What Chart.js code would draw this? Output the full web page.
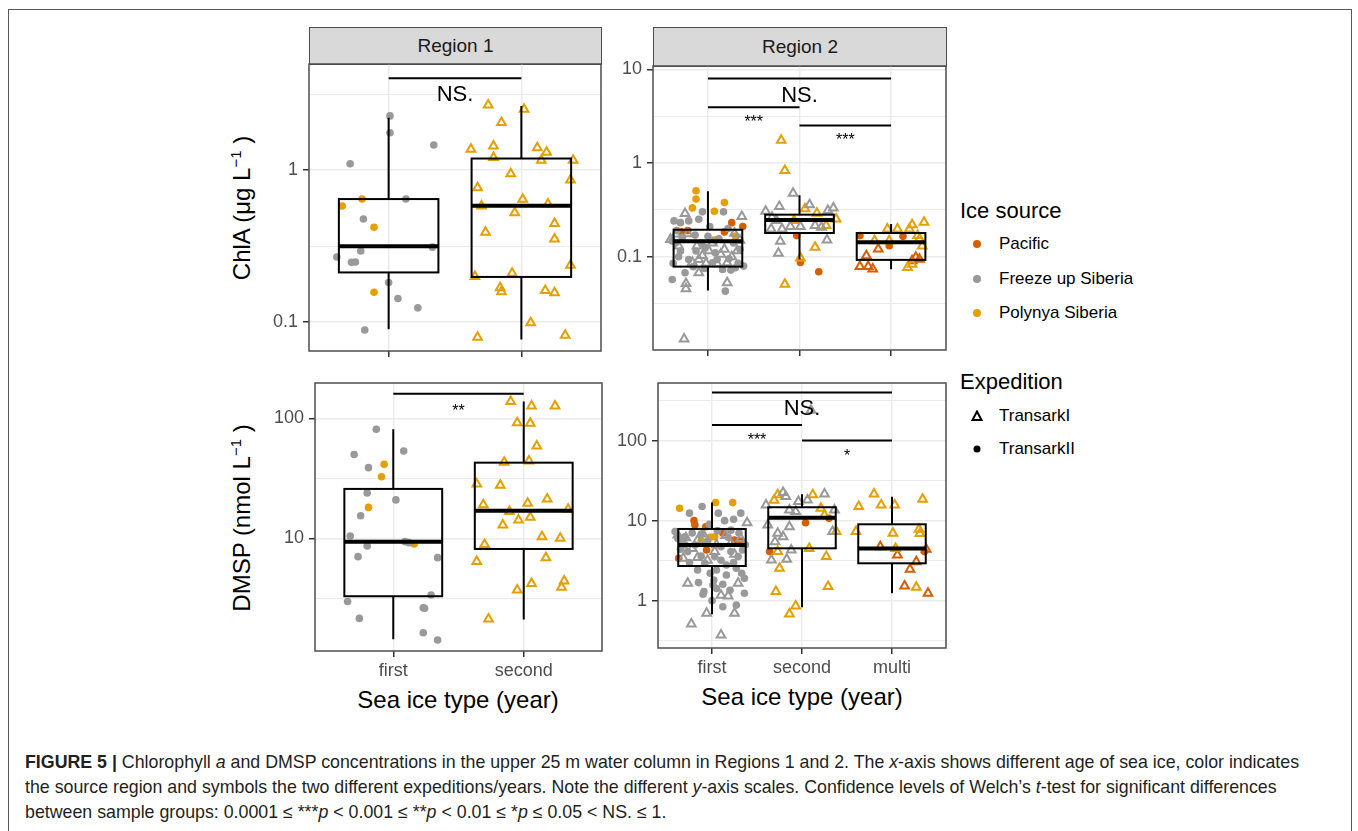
<!DOCTYPE html>
<html>
<head>
<meta charset="utf-8">
<script src="https://cdn.jsdelivr.net/npm/chart.js@4.4.0/dist/chart.umd.min.js"></script>
<style>
  body { margin: 0; width: 1358px; height: 831px; background: #fff; overflow: hidden; position: relative;
         font-family: 'Liberation Sans', Arial, sans-serif; color: #000; }
  .frame { position: absolute; left: 8px; top: 9px; width: 1342px; height: 900px; border: 1.5px solid #5a5a5a; }
  canvas { position: absolute; }
  .strip { position: absolute; background: #d9d9d9; border: 1.5px solid #4d4d4d; box-sizing: border-box;
           font-size: 19px; color: #1a1a1a; display: flex; align-items: center; justify-content: center; }
  .title { position: absolute; font-size: 24px; white-space: nowrap; transform: translate(-50%, -50%); }
  .ytitle { transform: translate(-50%, -50%) rotate(-90deg); }
  .title sup { font-size: 15px; vertical-align: 9px; line-height: 0; }
  .leg-title { position: absolute; font-size: 22px; white-space: nowrap; transform: translateY(-50%); }
  .leg-item { position: absolute; font-size: 17px; white-space: nowrap; transform: translateY(-50%); }
  .leg-key { position: absolute; transform: translate(-50%, -50%); }
  .caption { position: absolute; left: 25px; font-size: 17.8px; white-space: nowrap; color: #231f20; transform: translateY(-50%); }
</style>
</head>
<body>
<div class="frame"></div>

<div class="strip" style="left:309px; top:27px; width:293px; height:38px;">Region 1</div>
<div class="strip" style="left:653px; top:27px; width:294px; height:40px;">Region 2</div>

<div class="title ytitle" style="left:242px; top:208px;">ChlA (μg L<sup>−1</sup> )</div>
<div class="title ytitle" style="left:242px; top:518px;">DMSP (nmol L<sup>−1</sup> )</div>
<div class="title" style="left:458px; top:700px;">Sea ice type (year)</div>
<div class="title" style="left:802px; top:697px;">Sea ice type (year)</div>

<div class="leg-title" style="left:960px; top:211px;">Ice source</div>
<svg class="leg-key" style="left:977px; top:244px;" width="10" height="10"><circle cx="5" cy="5" r="4" fill="#D55E00"/></svg>
<div class="leg-item" style="left:999px; top:244px;">Pacific</div>
<svg class="leg-key" style="left:977px; top:279px;" width="10" height="10"><circle cx="5" cy="5" r="4" fill="#999999"/></svg>
<div class="leg-item" style="left:999px; top:279px;">Freeze up Siberia</div>
<svg class="leg-key" style="left:977px; top:313px;" width="10" height="10"><circle cx="5" cy="5" r="4" fill="#E69F00"/></svg>
<div class="leg-item" style="left:999px; top:313px;">Polynya Siberia</div>

<div class="leg-title" style="left:960px; top:382px;">Expedition</div>
<svg class="leg-key" style="left:977px; top:416px;" width="12" height="12"><polygon points="6,1.5 10.5,10 1.5,10" fill="none" stroke="#000" stroke-width="2"/></svg>
<div class="leg-item" style="left:999px; top:416px;">TransarkI</div>
<svg class="leg-key" style="left:977px; top:449px;" width="10" height="10"><circle cx="5" cy="5" r="3.5" fill="#000"/></svg>
<div class="leg-item" style="left:999px; top:449px;">TransarkII</div>

<div class="caption" style="top:762px;"><b>FIGURE 5 |</b> Chlorophyll <i>a</i> and DMSP concentrations in the upper 25 m water column in Regions 1 and 2. The <i>x</i>-axis shows different age of sea ice, color indicates</div>
<div class="caption" style="top:787px;">the source region and symbols the two different expeditions/years. Note the different <i>y</i>-axis scales. Confidence levels of Welch’s <i>t</i>-test for significant differences</div>
<div class="caption" style="top:812px;">between sample groups: 0.0001 ≤ ***<i>p</i> &lt; 0.001 ≤ **<i>p</i> &lt; 0.01 ≤ *<i>p</i> ≤ 0.05 &lt; NS. ≤ 1.</div>

<script>
// categories
const regionOneCats = ['first', 'second'];
const regionTwoCats = ['first', 'second', 'multi'];

// ---- ChlA, Region 1 : points are [x (category + jitter), value]
const chlR1FreezeII = [[1.01, 2.27], [1.01, 1.76], [1.34, 1.46], [0.71, 1.10], [1.13, 0.644], [0.81, 0.476],
  [1.33, 0.311], [0.79, 0.293], [0.61, 0.268], [0.72, 0.247], [0.75, 0.248], [1.0, 0.182], [1.07, 0.143],
  [1.22, 0.124], [0.82, 0.0886]];
const chlR1PolynyaII = [[0.80, 0.644], [0.65, 0.58], [0.89, 0.42], [0.89, 0.157]];
const chlR1PolynyaI = [[1.75, 2.68], [2.02, 2.51], [1.85, 2.05], [1.62, 1.37], [1.79, 1.44], [2.12, 1.40],
  [2.19, 1.31], [1.79, 1.21], [2.15, 1.16], [2.39, 1.16], [1.92, 0.946], [2.37, 0.86], [1.67, 0.765],
  [2.01, 0.641], [1.70, 0.58], [2.20, 0.597], [1.95, 0.524], [2.25, 0.444], [1.73, 0.389], [2.25, 0.352],
  [2.37, 0.236], [1.65, 0.199], [1.93, 0.209], [1.84, 0.168], [1.85, 0.158], [2.18, 0.161], [2.25, 0.156],
  [2.07, 0.099], [1.67, 0.0794], [2.33, 0.082]];
// boxes: [lower whisker, q1, median, q3, upper whisker]
const chlR1Boxes = [[0.0895, 0.212, 0.315, 0.644, 2.21], [0.0769, 0.198, 0.582, 1.19, 2.64]];
// significance: [from, to, bar value, label, label value]
const chlR1Sig = [[1, 2, 4.01, 'NS.', 3.11]];
const chlR1Range = [0.0645, 4.98];
const chlR1Ticks = [0.1, 1];
const chlR1Minor = [0.316, 3.16];

// ---- ChlA, Region 2
const chlR2PolynyaII = [[0.87, 0.506], [0.87, 0.412], [0.83, 0.332], [1.18, 0.379], [1.07, 0.306], [1.30, 0.166],
  [1.08, 0.151]];
const chlR2PacificII = [[1.26, 0.231], [1.38, 0.21], [0.71, 0.185], [1.18, 0.184], [0.78, 0.19], [1.97, 0.168],
  [2.01, 0.087], [2.21, 0.069], [2.66, 0.168], [3.13, 0.165], [2.98, 0.131]];
const chlR2FreezeII = [[0.94, 0.301], [1.17, 0.301], [0.63, 0.241], [0.70, 0.231], [0.79, 0.241], [0.90, 0.251],
  [0.61, 0.147], [0.75, 0.0674], [0.61, 0.0572], [1.19, 0.0429], [0.87, 0.115], [1.05, 0.0863], [1.16, 0.0731],
  [1.30, 0.0762], [1.39, 0.0794], [1.25, 0.072], [0.79, 0.0935], [0.97, 0.125], [0.70, 0.115], [1.10, 0.0935],
  [0.65, 0.141], [1.02, 0.21], [1.22, 0.2], [0.66, 0.19], [0.72, 0.16], [0.86, 0.17], [1.0, 0.165],
  [1.12, 0.155], [1.28, 0.14], [1.35, 0.12], [0.68, 0.1], [0.84, 0.078], [0.96, 0.075], [1.08, 0.11],
  [1.23, 0.095], [0.93, 0.14], [1.33, 0.085], [0.62, 0.085]];
const chlR2FreezeI = [[0.75, 0.289], [1.37, 0.268], [0.78, 0.176], [1.29, 0.178], [0.59, 0.153], [0.90, 0.0674],
  [0.76, 0.0518], [0.76, 0.0454], [1.21, 0.0526], [0.74, 0.0132], [1.14, 0.106], [0.94, 0.103], [1.01, 0.116],
  [0.90, 0.0935], [0.83, 0.0871], [1.10, 0.0843], [1.21, 0.086], [1.32, 0.116], [0.65, 0.175],
  [0.68, 0.13], [0.88, 0.13], [1.05, 0.14], [1.18, 0.12], [1.35, 0.15], [0.98, 0.085], [1.26, 0.1],
  [1.93, 0.477], [1.78, 0.343], [2.11, 0.358], [1.63, 0.306], [2.37, 0.332], [2.31, 0.311], [1.69, 0.198],
  [1.81, 0.198], [1.90, 0.21], [2.01, 0.21], [2.17, 0.215], [2.24, 0.206], [1.75, 0.243], [1.79, 0.146],
  [2.30, 0.151], [1.77, 0.109], [1.70, 0.264]];
const chlR2PolynyaI = [[1.80, 1.75], [1.84, 0.834], [2.06, 0.324], [2.19, 0.291], [2.40, 0.253], [2.29, 0.215],
  [2.17, 0.126], [2.01, 0.0968], [1.84, 0.0509], [1.94, 0.243], [3.36, 0.233], [3.23, 0.22], [2.96, 0.198],
  [3.07, 0.198], [3.20, 0.198], [3.29, 0.168], [2.82, 0.148], [2.98, 0.148], [3.31, 0.155], [3.34, 0.13],
  [3.18, 0.0769], [3.23, 0.083]];
const chlR2PacificI = [[2.86, 0.121], [2.73, 0.1025], [3.27, 0.0984], [3.23, 0.0906], [3.31, 0.094], [2.66, 0.0788],
  [2.75, 0.0788], [2.80, 0.0738]];
const chlR2Boxes = [[0.0437, 0.0784, 0.146, 0.194, 0.501], [0.094, 0.179, 0.246, 0.281, 0.454],
  [0.0734, 0.0925, 0.143, 0.179, 0.223]];
const chlR2Sig = [[1, 3, 7.97, 'NS.', 5.2], [1, 2, 3.93, '***', 2.99], [2, 3, 2.51, '***', 1.9]];
const chlR2Range = [0.0101, 10.85];
const chlR2Ticks = [0.1, 1, 10];
const chlR2Minor = [0.0316, 0.316, 3.16];

// ---- DMSP, Region 1
const dmspR1FreezeII = [[0.87, 81], [0.70, 50], [1.08, 53.4], [0.81, 38.8], [0.80, 23.9], [1.02, 20.9], [0.75, 15.4],
  [0.67, 10.45], [0.80, 8.63], [1.09, 9.38], [1.12, 9.2], [0.73, 7.03], [1.34, 6.9], [1.29, 3.37], [0.65, 2.97],
  [1.23, 2.64], [1.24, 2.61], [0.74, 2.15], [1.23, 1.63], [1.34, 1.42]];
const dmspR1PolynyaII = [[0.93, 41.4], [0.91, 32.6], [0.81, 18.1], [1.16, 8.97]];
const dmspR1PolynyaI = [[1.90, 138], [2.06, 127], [2.24, 127], [1.95, 92], [2.05, 90.8], [2.10, 58.7], [1.85, 43],
  [2.04, 44], [1.64, 28.4], [1.82, 27.7], [1.69, 19], [2.18, 21.3], [2.03, 19.6], [1.89, 16.7], [2.34, 17.5],
  [1.96, 14.2], [2.05, 15], [1.84, 12.9], [2.14, 10.3], [2.28, 10], [1.70, 8.9], [1.64, 6.4], [2.17, 6.9],
  [2.06, 4.2], [2.31, 4.4], [1.95, 3.7], [2.29, 3.9], [1.73, 2.13]];
const dmspR1Boxes = [[1.44, 3.29, 9.38, 25.8, 81], [2.11, 8.15, 17.0, 42.7, 138]];
const dmspR1Sig = [[1, 2, 160, '**', 123]];
const dmspR1Range = [1.15, 197];
const dmspR1Ticks = [10, 100];
const dmspR1Minor = [3.16, 31.6];

// ---- DMSP, Region 2
const dmspR2PolynyaII = [[0.64, 14.3], [1.04, 16.8], [1.23, 16.8], [0.98, 6.2], [0.88, 5.6], [1.03, 6.3]];
const dmspR2PacificII = [[0.80, 10], [0.81, 8.8], [0.93, 8.4], [0.63, 3.38], [1.32, 5.57], [0.94, 4.3], [1.12, 7.0],
  [1.25, 5.7], [2.04, 9.4], [1.64, 4.1], [2.30, 10.7], [3.36, 4.1]];
const dmspR2FreezeII = [[0.89, 15], [1.32, 12.4], [1.07, 12.4], [0.75, 12.4], [1.24, 10.4], [0.59, 7.3], [1.36, 1.24],
  [0.91, 1.30], [1.02, 1.81], [0.85, 1.68], [1.36, 1.9], [1.12, 0.84], [1.27, 0.88], [1.05, 1.42], [1.01, 1.57],
  [1.10, 4.73], [1.21, 4.1], [1.29, 3.55], [0.81, 4.96], [0.73, 4.1], [1.03, 3.55], [1.16, 2.79], [0.92, 2.93],
  [1.34, 4.3], [1.21, 7.6], [0.70, 6.3], [1.16, 2.09], [1.05, 2.42], [1.27, 2.54], [0.84, 2.42], [0.97, 9.0],
  [1.14, 10.0], [0.66, 5.2], [0.62, 6.0], [0.70, 5.0], [0.78, 7.0], [0.88, 6.8], [0.95, 5.5], [1.06, 7.5],
  [1.18, 6.2], [1.30, 7.0], [1.37, 5.0], [0.75, 3.0], [0.88, 3.6], [0.98, 2.2], [1.10, 3.2], [1.24, 3.0],
  [1.33, 2.2], [0.65, 4.4], [0.90, 1.2], [1.20, 1.35], [1.00, 1.0], [1.12, 1.6]];
const dmspR2FreezeI = [[1.39, 9.4], [0.71, 6.1], [0.68, 3.38], [0.84, 3.45], [0.73, 1.65], [1.29, 1.65], [1.18, 1.14],
  [1.25, 0.695], [0.94, 0.695], [0.77, 0.51], [1.10, 0.373], [0.84, 5.7], [1.21, 5.2], [1.03, 4.1], [1.10, 1.17],
  [0.62, 6.6], [0.90, 6.8], [1.15, 6.5], [1.32, 6.0], [0.78, 4.5], [1.05, 5.0], [1.25, 3.8], [0.95, 3.2],
  [1.79, 22.4], [1.82, 20], [2.25, 21.5], [1.60, 15.7], [2.06, 18.1], [1.96, 17.4], [2.36, 13.6], [1.86, 13.6],
  [1.93, 13.0], [1.62, 8.8], [1.86, 8.4], [2.34, 7.3], [1.73, 6.95], [1.70, 5.46], [1.88, 4.3], [1.66, 3.22],
  [1.83, 3.3], [1.79, 6.3], [2.10, 240]];
const dmspR2PolynyaI = [[1.73, 21], [2.12, 21], [2.21, 14.3], [2.25, 11.7], [2.38, 7.3], [2.08, 4.5], [2.27, 3.55],
  [1.73, 4.1], [1.75, 2.54], [1.71, 1.30], [2.29, 1.50], [1.93, 0.858], [1.86, 0.68], [1.69, 18],
  [2.80, 21.5], [2.88, 15.7], [3.03, 15.7], [3.34, 18.5], [2.63, 15], [2.60, 7.3], [3.01, 6.95], [3.30, 7.8],
  [3.31, 6.9], [3.04, 4.5], [3.27, 1.47]];
const dmspR2PacificI = [[2.87, 4.73], [3.38, 4.38], [3.27, 3.07], [3.20, 2.46], [3.14, 1.52], [3.40, 1.24], [3.06, 3.72]];
const dmspR2Boxes = [[0.675, 2.71, 4.96, 7.87, 16.8], [0.826, 4.51, 10.9, 14.7, 21.3], [1.24, 2.93, 4.47, 9.0, 19.95]];
const dmspR2Sig = [[1, 3, 398, 'NS.', 246], [1, 2, 157, '***', 112], [2, 3, 100, '*', 70.8]];
const dmspR2Range = [0.256, 525];
const dmspR2Ticks = [1, 10, 100];
const dmspR2Minor = [0.316, 3.16, 31.6, 316];

const COLORS = { pacific: '#D55E00', freeze: '#999999', polynya: '#E69F00' };
Chart.defaults.font.family = "'Liberation Sans', Arial, sans-serif";

function points(arr, src, exp) {
  const tri = exp === 'I';
  return {
    data: arr.map(([x, y]) => ({ x, y })),
    pointStyle: tri ? 'triangle' : 'circle',
    pointRadius: tri ? 5 : 3.8,
    borderWidth: tri ? 2 : 0,
    borderColor: COLORS[src],
    backgroundColor: tri ? 'rgba(0,0,0,0)' : COLORS[src],
  };
}

// box plots, significance bars and the panel border
const panelPlugin = {
  id: 'panel',
  afterDatasetsDraw(chart, args, opts) {
    const { ctx, chartArea: a, scales: { x, y } } = chart;
    ctx.save();
    ctx.beginPath();
    ctx.rect(a.left, a.top, a.width, a.height);
    ctx.clip();
    ctx.strokeStyle = '#000';
    opts.boxes.forEach((b, i) => {
      const c = i + 1;
      const cx = x.getPixelForValue(c);
      const xl = x.getPixelForValue(c - 0.375);
      const xr = x.getPixelForValue(c + 0.375);
      const [lo, q1, med, q3, hi] = b.map((v) => y.getPixelForValue(v));
      ctx.lineWidth = 2;
      ctx.beginPath();
      ctx.moveTo(cx, q3); ctx.lineTo(cx, hi);
      ctx.moveTo(cx, q1); ctx.lineTo(cx, lo);
      ctx.stroke();
      ctx.strokeRect(xl, q3, xr - xl, q1 - q3);
      ctx.lineWidth = 4;
      ctx.beginPath();
      ctx.moveTo(xl, med); ctx.lineTo(xr, med);
      ctx.stroke();
    });
    ctx.lineWidth = 2;
    ctx.fillStyle = '#000';
    ctx.textAlign = 'center';
    ctx.textBaseline = 'middle';
    opts.sigs.forEach(([from, to, bar, label, ly]) => {
      const yb = y.getPixelForValue(bar);
      ctx.beginPath();
      ctx.moveTo(x.getPixelForValue(from), yb);
      ctx.lineTo(x.getPixelForValue(to), yb);
      ctx.stroke();
      const big = label === 'NS.';
      ctx.font = (big ? '22px' : '16px') + " 'Liberation Sans', Arial, sans-serif";
      ctx.fillText(label, x.getPixelForValue((from + to) / 2), y.getPixelForValue(ly) + (big ? 0 : 4));
    });
    ctx.restore();
    ctx.save();
    ctx.strokeStyle = '#4d4d4d';
    ctx.lineWidth = 1.5;
    ctx.strokeRect(a.left, a.top, a.width, a.height);
    ctx.restore();
  },
};

const PAD_L = 60, PAD_T = 24, PAD_R = 12, PAD_B = 40;

function makePanel(area, cats, range, majors, minors, datasets, boxes, sigs, showX) {
  const canvas = document.createElement('canvas');
  const w = area.width + PAD_L + PAD_R;
  const h = area.height + PAD_T + PAD_B;
  canvas.width = w; canvas.height = h;
  canvas.style.left = (area.left - PAD_L) + 'px';
  canvas.style.top = (area.top - PAD_T) + 'px';
  canvas.style.width = w + 'px';
  canvas.style.height = h + 'px';
  document.body.appendChild(canvas);
  const yTicks = majors.concat(minors).sort((a, b) => a - b);
  const isMajor = (v) => majors.some((m) => Math.abs(m - v) < 1e-9);
  new Chart(canvas, {
    type: 'scatter',
    data: { datasets },
    options: {
      responsive: false,
      animation: false,
      devicePixelRatio: 1,
      layout: { padding: { top: PAD_T, right: PAD_R, left: 0, bottom: 0 } },
      plugins: { legend: { display: false }, tooltip: { enabled: false }, panel: { boxes, sigs } },
      scales: {
        x: {
          type: 'linear',
          min: 0.4,
          max: cats.length + 0.6,
          afterBuildTicks: (s) => { s.ticks = cats.map((c, i) => ({ value: i + 1 })); },
          afterFit: (s) => { s.height = PAD_B; },
          ticks: {
            callback: (v) => (showX ? cats[Math.round(v) - 1] : ''),
            color: '#4d4d4d', font: { size: 18 }, padding: 3, maxRotation: 0, autoSkip: false,
          },
          grid: { color: '#ebebeb', lineWidth: 1.5, tickLength: 6, tickColor: '#333', tickWidth: 1.5 },
          border: { display: false },
        },
        y: {
          type: 'logarithmic',
          min: range[0],
          max: range[1],
          afterBuildTicks: (s) => { s.ticks = yTicks.map((v) => ({ value: v })); },
          afterFit: (s) => { s.width = PAD_L; },
          ticks: {
            callback: (v) => (isMajor(v) ? String(v) : ''),
            color: '#4d4d4d', font: { size: 18 }, padding: 5, autoSkip: false,
          },
          grid: {
            color: '#ebebeb',
            lineWidth: (c) => (c.tick && isMajor(c.tick.value) ? 1.5 : 1),
            tickLength: 6,
            tickWidth: 1.5,
            tickColor: (c) => (c.tick && isMajor(c.tick.value) ? '#333' : 'rgba(0,0,0,0)'),
          },
          border: { display: false },
        },
      },
    },
    plugins: [panelPlugin],
  });
}

makePanel({ left: 309, top: 64, width: 292, height: 287 }, regionOneCats, chlR1Range, chlR1Ticks, chlR1Minor, [
  points(chlR1FreezeII, 'freeze', 'II'),
  points(chlR1PolynyaII, 'polynya', 'II'),
  points(chlR1PolynyaI, 'polynya', 'I'),
], chlR1Boxes, chlR1Sig, false);

makePanel({ left: 653, top: 66, width: 293, height: 284 }, regionTwoCats, chlR2Range, chlR2Ticks, chlR2Minor, [
  points(chlR2FreezeII, 'freeze', 'II'),
  points(chlR2FreezeI, 'freeze', 'I'),
  points(chlR2PolynyaII, 'polynya', 'II'),
  points(chlR2PolynyaI, 'polynya', 'I'),
  points(chlR2PacificII, 'pacific', 'II'),
  points(chlR2PacificI, 'pacific', 'I'),
], chlR2Boxes, chlR2Sig, false);

makePanel({ left: 315, top: 383, width: 287, height: 268 }, regionOneCats, dmspR1Range, dmspR1Ticks, dmspR1Minor, [
  points(dmspR1FreezeII, 'freeze', 'II'),
  points(dmspR1PolynyaII, 'polynya', 'II'),
  points(dmspR1PolynyaI, 'polynya', 'I'),
], dmspR1Boxes, dmspR1Sig, true);

makePanel({ left: 658, top: 383, width: 288, height: 265 }, regionTwoCats, dmspR2Range, dmspR2Ticks, dmspR2Minor, [
  points(dmspR2FreezeII, 'freeze', 'II'),
  points(dmspR2FreezeI, 'freeze', 'I'),
  points(dmspR2PolynyaII, 'polynya', 'II'),
  points(dmspR2PolynyaI, 'polynya', 'I'),
  points(dmspR2PacificII, 'pacific', 'II'),
  points(dmspR2PacificI, 'pacific', 'I'),
], dmspR2Boxes, dmspR2Sig, true);
</script>
</body>
</html>
